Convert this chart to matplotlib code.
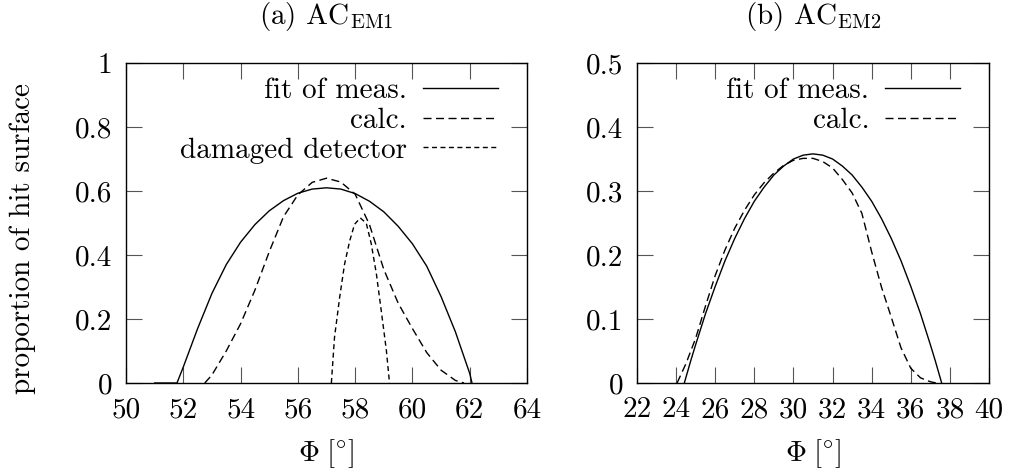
import matplotlib
matplotlib.use("Agg")
import matplotlib.pyplot as plt

plt.rcParams['font.family'] = 'cmr10'
plt.rcParams['mathtext.fontset'] = 'cm'
plt.rcParams['axes.unicode_minus'] = False
plt.rcParams['axes.formatter.use_mathtext'] = True

# --- (a) AC_EM1 ---
phi_a_fit = [51.0, 51.78, 52.0, 52.5, 53.0, 53.5, 54.0, 54.5, 55.0, 55.5, 56.0, 56.5,
             57.0, 57.5, 58.0, 58.5, 59.0, 59.5, 60.0, 60.5, 61.0, 61.5, 62.0, 62.08]
hit_a_fit = [0.0, 0.0, 0.05, 0.17, 0.28, 0.37, 0.44, 0.495, 0.538, 0.57, 0.593, 0.606,
             0.61, 0.606, 0.592, 0.568, 0.535, 0.49, 0.435, 0.365, 0.27, 0.16, 0.03, 0.0]

phi_a_calc = [52.75, 53.0, 53.5, 54.0, 54.5, 55.0, 55.5, 56.0, 56.5, 57.0, 57.5, 58.0,
              58.5, 59.0, 59.5, 60.0, 60.5, 61.0, 61.5, 61.8]
hit_a_calc = [0.0, 0.025, 0.1, 0.185, 0.29, 0.41, 0.52, 0.588, 0.627, 0.64, 0.628, 0.59,
              0.495, 0.355, 0.25, 0.17, 0.095, 0.04, 0.008, 0.0]

phi_a_dmg = [57.17, 57.28, 57.46, 57.63, 57.81, 57.98, 58.18, 58.39, 58.56, 58.74,
             58.91, 59.09, 59.20]
hit_a_dmg = [0.0, 0.143, 0.268, 0.371, 0.444, 0.496, 0.516, 0.499, 0.436, 0.342,
             0.227, 0.102, 0.0]

# --- (b) AC_EM2 ---
phi_b_fit = [24.42, 24.75, 25.0, 25.5, 26.0, 26.5, 27.0, 27.5, 28.0, 28.5, 29.0, 29.5,
             30.0, 30.5, 31.0, 31.5, 32.0, 32.5, 33.0, 33.5, 34.0, 34.5, 35.0, 35.5,
             36.0, 36.5, 37.0, 37.25, 37.58]
hit_b_fit = [0.0, 0.035, 0.06, 0.108, 0.151, 0.191, 0.226, 0.257, 0.284, 0.306, 0.325, 0.339,
             0.35, 0.356, 0.358, 0.356, 0.35, 0.339, 0.325, 0.306, 0.284, 0.257, 0.226, 0.191,
             0.151, 0.108, 0.06, 0.035, 0.0]

phi_b_calc = [24.05, 24.5, 25.0, 25.5, 26.0, 26.5, 27.0, 27.5, 28.0, 28.5, 29.0, 29.5,
              30.0, 30.5, 31.0, 31.5, 32.0, 32.5, 33.0, 33.5, 34.0, 34.5, 35.0, 35.5,
              36.0, 36.5, 37.0, 37.3]
hit_b_calc = [0.0, 0.03, 0.07, 0.12, 0.168, 0.208, 0.242, 0.27, 0.294, 0.313, 0.328, 0.34,
              0.348, 0.351, 0.351, 0.346, 0.336, 0.318, 0.297, 0.265, 0.205, 0.15, 0.103,
              0.055, 0.023, 0.008, 0.002, 0.0]

xticks_a = [50, 52, 54, 56, 58, 60, 62, 64]
xticks_b = [22, 24, 26, 28, 30, 32, 34, 36, 38, 40]
yticks_a = [0, 0.2, 0.4, 0.6, 0.8, 1.0]
ytick_labels_a = ['0', '0.2', '0.4', '0.6', '0.8', '1']
yticks_b = [0, 0.1, 0.2, 0.3, 0.4, 0.5]
ytick_labels_b = ['0', '0.1', '0.2', '0.3', '0.4', '0.5']

FS = 21
W, H = 1018, 476

fig = plt.figure(figsize=(W / 100, H / 100), dpi=100)
ax1 = fig.add_axes([126 / W, 1 - 383 / H, (527 - 126) / W, 320 / H])
ax2 = fig.add_axes([637 / W, 1 - 383 / H, (989 - 637) / W, 320 / H])

calc_dash = (0, (5.8, 3.2))
dmg_dash = (0, (3.6, 2.5))

ax1.plot(phi_a_fit, hit_a_fit, color='black', lw=1.0, label='fit of meas.')
ax1.plot(phi_a_calc, hit_a_calc, color='black', lw=1.0, linestyle=calc_dash, label='calc.')
ax1.plot(phi_a_dmg, hit_a_dmg, color='black', lw=1.0, linestyle=dmg_dash, label='damaged detector')

ax2.plot(phi_b_fit, hit_b_fit, color='black', lw=1.0, label='fit of meas.')
ax2.plot(phi_b_calc, hit_b_calc, color='black', lw=1.0, linestyle=calc_dash, label='calc.')

panels = [
    (ax1, xticks_a, yticks_a, ytick_labels_a, r'(a) AC$_{\mathrm{EM1}}$', 0.927),
    (ax2, xticks_b, yticks_b, ytick_labels_b, r'(b) AC$_{\mathrm{EM2}}$', 0.918),
]
for ax, xt, yt, ytl, title, leg_x in panels:
    ax.set_xlim(xt[0], xt[-1])
    ax.set_ylim(yt[0], yt[-1])
    ax.set_xticks(xt)
    ax.set_xticklabels([str(v) for v in xt])
    ax.set_yticks(yt)
    ax.set_yticklabels(ytl)
    ax.tick_params(direction='in', length=11.5, width=0.8, color='#555555',
                   top=True, right=True, labelsize=FS)
    ax.tick_params(axis='x', pad=10)
    ax.tick_params(axis='y', pad=10)
    for sp in ax.spines.values():
        sp.set_linewidth(1.0)
    ax.set_title(title, fontsize=FS, pad=28)
    ax.set_xlabel(r'$\Phi\;[^{\circ}]$', fontsize=FS, labelpad=10)

    leg = ax.legend(loc='upper right', bbox_to_anchor=(leg_x, 0.955), frameon=False,
                    markerfirst=False, fontsize=FS, handlelength=2.57,
                    handletextpad=0.55, labelspacing=0.12, borderpad=0.0,
                    borderaxespad=0.0)
    # right-align the legend texts, gnuplot style
    for col in leg._legend_box.get_children()[1].get_children():
        col.align = 'right'

ax1.set_ylabel('proportion of hit surface', fontsize=FS)
ax1.yaxis.set_label_coords(-0.224, 0.45)

fig.savefig('out.png', dpi=100)
